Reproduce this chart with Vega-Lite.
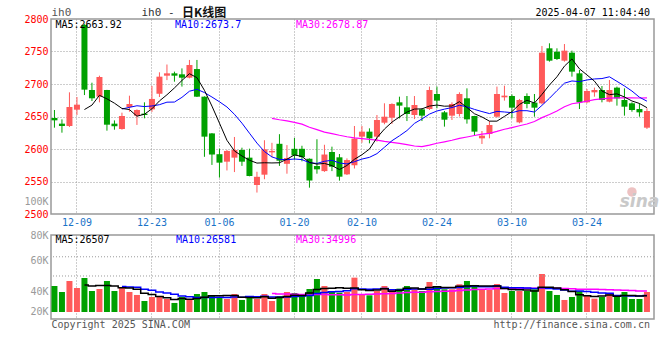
{
  "$schema": "https://vega.github.io/schema/vega-lite/v6.json",
  "background": "white",
  "padding": {"left": 23, "top": 6, "right": 4, "bottom": 4},
  "datasets": {
    "one": [{}],
    "k": [
      {"d":"2024-12-04","o":2647.7,"h":2660,"l":2632.8,"c":2644.1,"v":42600},
      {"d":"2024-12-05","o":2639,"h":2645.6,"l":2625.1,"c":2635.4,"v":32800},
      {"d":"2024-12-06","o":2635.4,"h":2687.2,"l":2633.8,"c":2664.6,"v":50800},
      {"d":"2024-12-09","o":2660.5,"h":2680,"l":2652.3,"c":2668.2,"v":39300},
      {"d":"2024-12-10","o":2791,"h":2792,"l":2683,"c":2691.3,"v":55700},
      {"d":"2024-12-11","o":2690.8,"h":2702,"l":2673.8,"c":2678,"v":34400},
      {"d":"2024-12-12","o":2680.5,"h":2712.8,"l":2671.8,"c":2710.8,"v":37700},
      {"d":"2024-12-13","o":2690.8,"h":2691,"l":2628.2,"c":2637.4,"v":50800},
      {"d":"2024-12-16","o":2639,"h":2644,"l":2629.7,"c":2635,"v":34400},
      {"d":"2024-12-17","o":2630.8,"h":2655.9,"l":2629.7,"c":2650.8,"v":40400},
      {"d":"2024-12-18","o":2664.6,"h":2682,"l":2657.4,"c":2669.2,"v":32800},
      {"d":"2024-12-19","o":2651.3,"h":2661,"l":2637,"c":2660,"v":27900},
      {"d":"2024-12-20","o":2654.4,"h":2671.8,"l":2647.2,"c":2652.3,"v":18000},
      {"d":"2024-12-23","o":2661,"h":2697,"l":2657,"c":2677,"v":24600},
      {"d":"2024-12-24","o":2685,"h":2718,"l":2680,"c":2711.3,"v":24600},
      {"d":"2024-12-25","o":2712.8,"h":2730,"l":2706,"c":2716.4,"v":21300},
      {"d":"2024-12-26","o":2716.4,"h":2719,"l":2703.6,"c":2712.8,"v":14800},
      {"d":"2024-12-27","o":2714.9,"h":2724,"l":2696,"c":2709.7,"v":24600},
      {"d":"2024-12-30","o":2709.7,"h":2737,"l":2708.7,"c":2729.2,"v":19700},
      {"d":"2024-12-31","o":2723,"h":2737,"l":2680,"c":2680.5,"v":29500},
      {"d":"2025-01-02","o":2680.5,"h":2681,"l":2588,"c":2619,"v":32800},
      {"d":"2025-01-03","o":2624,"h":2624.5,"l":2575.5,"c":2591.5,"v":26200},
      {"d":"2025-01-06","o":2592,"h":2600.5,"l":2556,"c":2579,"v":24600},
      {"d":"2025-01-07","o":2580.5,"h":2598.5,"l":2567,"c":2597,"v":21300},
      {"d":"2025-01-08","o":2586.7,"h":2618.5,"l":2564.5,"c":2598.5,"v":29500},
      {"d":"2025-01-09","o":2598.5,"h":2602,"l":2574,"c":2580.5,"v":19700},
      {"d":"2025-01-10","o":2586.7,"h":2600.5,"l":2558,"c":2558.5,"v":24600},
      {"d":"2025-01-13","o":2544.6,"h":2565,"l":2533,"c":2557.2,"v":21300},
      {"d":"2025-01-14","o":2560.5,"h":2613.5,"l":2553.5,"c":2599.5,"v":29500},
      {"d":"2025-01-15","o":2594.8,"h":2609.5,"l":2587.5,"c":2597,"v":18000},
      {"d":"2025-01-16","o":2608,"h":2622.8,"l":2574,"c":2582,"v":26200},
      {"d":"2025-01-17","o":2577.2,"h":2606,"l":2562,"c":2586,"v":32800},
      {"d":"2025-01-20","o":2600.3,"h":2617,"l":2583.5,"c":2590,"v":31100},
      {"d":"2025-01-21","o":2600.3,"h":2605,"l":2581,"c":2587.5,"v":27900},
      {"d":"2025-01-22","o":2585,"h":2585.5,"l":2540.5,"c":2551.5,"v":37700},
      {"d":"2025-01-23","o":2573.8,"h":2615,"l":2562,"c":2568.7,"v":54100},
      {"d":"2025-01-24","o":2566,"h":2606.5,"l":2564.8,"c":2591.5,"v":42600},
      {"d":"2025-01-27","o":2595.4,"h":2603.6,"l":2566,"c":2572.8,"v":32800},
      {"d":"2025-02-05","o":2587.2,"h":2592.3,"l":2551.3,"c":2557.4,"v":31700},
      {"d":"2025-02-06","o":2561,"h":2585.6,"l":2560,"c":2583,"v":32800},
      {"d":"2025-02-07","o":2575,"h":2635.4,"l":2570,"c":2616,"v":56300},
      {"d":"2025-02-10","o":2619,"h":2635.4,"l":2609.7,"c":2626.7,"v":29000},
      {"d":"2025-02-11","o":2626.7,"h":2631.8,"l":2608.7,"c":2616.4,"v":27300},
      {"d":"2025-02-12","o":2619,"h":2652.3,"l":2611.3,"c":2644.6,"v":34400},
      {"d":"2025-02-13","o":2640.5,"h":2670.3,"l":2638,"c":2649.7,"v":42600},
      {"d":"2025-02-14","o":2648.2,"h":2670.3,"l":2638.5,"c":2669.2,"v":36100},
      {"d":"2025-02-17","o":2671.8,"h":2680.5,"l":2647,"c":2666.7,"v":38300},
      {"d":"2025-02-18","o":2664.1,"h":2681.5,"l":2643,"c":2653.8,"v":42600},
      {"d":"2025-02-19","o":2652.3,"h":2681.5,"l":2646,"c":2667.7,"v":37200},
      {"d":"2025-02-20","o":2661,"h":2662.6,"l":2643,"c":2651.3,"v":34400},
      {"d":"2025-02-21","o":2661.5,"h":2696,"l":2660,"c":2690.8,"v":49200},
      {"d":"2025-02-24","o":2684.6,"h":2696,"l":2662.6,"c":2674.4,"v":42600},
      {"d":"2025-02-25","o":2656.4,"h":2658.5,"l":2634.4,"c":2645.1,"v":37200},
      {"d":"2025-02-26","o":2651.3,"h":2671.8,"l":2644.6,"c":2669.2,"v":37200},
      {"d":"2025-02-27","o":2653.8,"h":2687.2,"l":2650,"c":2684.6,"v":45400},
      {"d":"2025-02-28","o":2678,"h":2693.3,"l":2639,"c":2645.6,"v":50800},
      {"d":"2025-03-03","o":2650.8,"h":2651,"l":2620,"c":2626.7,"v":44300},
      {"d":"2025-03-04","o":2616.4,"h":2627.7,"l":2607.7,"c":2620.5,"v":36100},
      {"d":"2025-03-05","o":2623.1,"h":2643,"l":2616.4,"c":2636.9,"v":36100},
      {"d":"2025-03-06","o":2649.7,"h":2696,"l":2648.2,"c":2684.6,"v":45900},
      {"d":"2025-03-07","o":2679.5,"h":2697.4,"l":2674.4,"c":2682.1,"v":31100},
      {"d":"2025-03-10","o":2681.5,"h":2684,"l":2647.2,"c":2663.6,"v":34400},
      {"d":"2025-03-11","o":2641,"h":2677,"l":2639.5,"c":2675.4,"v":34400},
      {"d":"2025-03-12","o":2681.5,"h":2685.6,"l":2662.6,"c":2669.2,"v":34400},
      {"d":"2025-03-13","o":2671.3,"h":2684.6,"l":2649.7,"c":2663.6,"v":37200},
      {"d":"2025-03-14","o":2670.3,"h":2758.5,"l":2668.7,"c":2748.2,"v":62300},
      {"d":"2025-03-17","o":2754.9,"h":2762.6,"l":2734.4,"c":2735.9,"v":34400},
      {"d":"2025-03-18","o":2749.7,"h":2754.9,"l":2737,"c":2738.5,"v":27900},
      {"d":"2025-03-19","o":2735.9,"h":2761.5,"l":2734.4,"c":2751.3,"v":19700},
      {"d":"2025-03-20","o":2748.2,"h":2751.3,"l":2711.3,"c":2719,"v":24600},
      {"d":"2025-03-21","o":2716.4,"h":2721.5,"l":2661.5,"c":2671.8,"v":34400},
      {"d":"2025-03-24","o":2671.8,"h":2692.3,"l":2670.3,"c":2689.2,"v":26200},
      {"d":"2025-03-25","o":2687.2,"h":2694.4,"l":2680.5,"c":2690.8,"v":21900},
      {"d":"2025-03-26","o":2690.8,"h":2696.9,"l":2671.8,"c":2675.4,"v":24600},
      {"d":"2025-03-27","o":2672.8,"h":2706.2,"l":2671.8,"c":2690.8,"v":31100},
      {"d":"2025-03-28","o":2694.4,"h":2696,"l":2666.7,"c":2678,"v":24600},
      {"d":"2025-03-31","o":2675.4,"h":2693.3,"l":2651.3,"c":2665.1,"v":32800},
      {"d":"2025-04-01","o":2670.3,"h":2671.8,"l":2657.4,"c":2660,"v":21300},
      {"d":"2025-04-02","o":2661.5,"h":2670.3,"l":2649.7,"c":2656.4,"v":21300},
      {"d":"2025-04-03","o":2632.8,"h":2662.6,"l":2630.8,"c":2658.5,"v":32800}
    ]
  },
  "spacing": 21,
  "bounds": "flush",
  "vconcat": [
    {
      "width": 603,
      "height": 195,
      "layer": [
        {
          "data": {"name": "k"},
          "mark": {"type": "rule", "strokeWidth": 1},
          "encoding": {
            "x": {
              "field": "d", "type": "ordinal",
              "scale": {"type": "band", "paddingInner": 0.2, "paddingOuter": 0.3, "align": 0.1},
              "axis": {
                "values": ["2024-12-09","2024-12-23","2025-01-06","2025-01-20","2025-02-10","2025-02-24","2025-03-10","2025-03-24"],
                "labelExpr": "substring(datum.value, 5)",
                "labelColor": "#1a73c8", "labelAngle": 0, "labelPadding": 3,
                "ticks": false, "domain": false, "grid": true, "gridColor": "#9a9a9a", "gridDash": [1, 2],
                "bandPosition": 0.5, "title": null
              }
            },
            "y": {
              "field": "l", "type": "quantitative",
              "scale": {"domain": [2500, 2800], "zero": false, "nice": false},
              "axis": {
                "values": [2500, 2520, 2550, 2600, 2650, 2700, 2750, 2800],
                "tickCount": 40,
                "format": "d",
                "labelExpr": "datum.value == 2520 ? '100K' : datum.label",
                "labelColor": {"condition": {"test": "datum.value == 2520", "value": "#9a9a9a"}, "value": "#ff0000"},
                "gridOpacity": {"condition": {"test": "datum.value == 2520 || datum.value == 2500 || datum.value == 2800", "value": 0}, "value": 1},
                "gridColor": "#9a9a9a", "gridDash": [1, 2],
                "ticks": false, "domain": false, "labelPadding": 3, "labelOverlap": false, "title": null
              }
            },
            "y2": {"field": "h"},
            "color": {"condition": {"test": "datum.c >= datum.o", "value": "#ff5a5a"}, "value": "#00a000"}
          }
        },
        {
          "data": {"name": "k"},
          "mark": {"type": "bar"},
          "encoding": {
            "x": {"field": "d", "type": "ordinal"},
            "y": {"field": "o", "type": "quantitative"},
            "y2": {"field": "c"},
            "color": {"condition": {"test": "datum.c >= datum.o", "value": "#ff5a5a"}, "value": "#00a000"}
          }
        },
        {
          "data": {"name": "k"},
          "transform": [
            {"window": [{"op": "mean", "field": "c", "as": "m"}, {"op": "count", "as": "n"}], "frame": [-29, 0], "sort": [{"field": "d"}]},
            {"filter": "datum.n >= 30"}
          ],
          "mark": {"type": "line", "color": "#ff00ff", "strokeWidth": 1.2},
          "encoding": {"x": {"field": "d", "type": "ordinal"}, "y": {"field": "m", "type": "quantitative"}}
        },
        {
          "data": {"name": "k"},
          "transform": [
            {"window": [{"op": "mean", "field": "c", "as": "m"}, {"op": "count", "as": "n"}], "frame": [-9, 0], "sort": [{"field": "d"}]},
            {"filter": "datum.n >= 10"}
          ],
          "mark": {"type": "line", "color": "#0000ff", "strokeWidth": 1},
          "encoding": {"x": {"field": "d", "type": "ordinal"}, "y": {"field": "m", "type": "quantitative"}}
        },
        {
          "data": {"name": "k"},
          "transform": [
            {"window": [{"op": "mean", "field": "c", "as": "m"}, {"op": "count", "as": "n"}], "frame": [-4, 0], "sort": [{"field": "d"}]},
            {"filter": "datum.n >= 5"}
          ],
          "mark": {"type": "line", "color": "#000000", "strokeWidth": 1},
          "encoding": {"x": {"field": "d", "type": "ordinal"}, "y": {"field": "m", "type": "quantitative"}}
        },
        {
          "data": {"name": "one"},
          "mark": {"type": "text", "text": "ih0", "align": "left", "color": "#555555", "fontSize": 11},
          "encoding": {"x": {"datum": "2024-12-04", "type": "ordinal", "bandPosition": 0}, "y": {"datum": 2809}}
        },
        {
          "data": {"name": "one"},
          "mark": {"type": "text", "text": "ih0 -", "align": "left", "color": "#333333", "fontSize": 11},
          "encoding": {"x": {"datum": "2024-12-20", "type": "ordinal", "bandPosition": 0}, "y": {"datum": 2809}}
        },
        {
          "data": {"name": "one"},
          "mark": {"type": "text", "text": "日K线图", "align": "left", "dx": 3, "color": "#111111", "fontSize": 12, "fontWeight": "bold", "font": "Noto Sans CJK SC"},
          "encoding": {"x": {"datum": "2024-12-27", "type": "ordinal", "bandPosition": 0}, "y": {"datum": 2809}}
        },
        {
          "data": {"name": "one"},
          "mark": {"type": "text", "text": "2025-04-07 11:04:40", "align": "right", "color": "#000000"},
          "encoding": {"x": {"datum": "2025-04-03", "type": "ordinal", "bandPosition": 1}, "y": {"datum": 2809}}
        },
        {
          "data": {"name": "one"},
          "mark": {"type": "text", "text": "MA5:2663.92", "align": "left", "dx": 4, "color": "#000000"},
          "encoding": {"x": {"datum": "2024-12-04", "type": "ordinal", "bandPosition": 0}, "y": {"datum": 2790.8}}
        },
        {
          "data": {"name": "one"},
          "mark": {"type": "text", "text": "MA10:2673.7", "align": "left", "dx": 3.5, "color": "#0000ff"},
          "encoding": {"x": {"datum": "2024-12-26", "type": "ordinal", "bandPosition": 0}, "y": {"datum": 2790.8}}
        },
        {
          "data": {"name": "one"},
          "mark": {"type": "text", "text": "MA30:2678.87", "align": "left", "dx": 4.5, "color": "#ff00ff"},
          "encoding": {"x": {"datum": "2025-01-20", "type": "ordinal", "bandPosition": 0}, "y": {"datum": 2790.8}}
        },
        {
          "data": {"name": "one"},
          "mark": {"type": "point", "shape": "circle", "filled": true, "size": 90, "color": "#e9b3b3", "opacity": 0.8},
          "encoding": {"x": {"datum": "2025-04-01", "type": "ordinal"}, "y": {"datum": 2534}}
        },
        {
          "data": {"name": "one"},
          "mark": {"type": "text", "text": "sina", "align": "center", "font": "DejaVu Sans", "fontSize": 17, "fontStyle": "italic", "fontWeight": "bold", "color": "#c9c9c9"},
          "encoding": {"x": {"datum": "2025-04-02", "type": "ordinal"}, "y": {"datum": 2518}}
        }
      ]
    },
    {
      "width": 603,
      "height": 84,
      "layer": [
        {
          "data": {"name": "k"},
          "mark": {"type": "bar"},
          "encoding": {
            "x": {
              "field": "d", "type": "ordinal",
              "scale": {"type": "band", "paddingInner": 0.2, "paddingOuter": 0.3, "align": 0.1},
              "axis": {
                "values": ["2024-12-09","2024-12-23","2025-01-06","2025-01-20","2025-02-10","2025-02-24","2025-03-10","2025-03-24"],
                "labels": false, "ticks": false, "domain": false, "grid": true, "gridColor": "#9a9a9a", "gridDash": [1, 2],
                "bandPosition": 0.5, "title": null
              }
            },
            "y": {
              "field": "v", "type": "quantitative",
              "scale": {"domain": [-11500, 126200], "zero": false, "nice": false},
              "axis": {
                "values": [0, 34400, 84000, 126000],
                "tickCount": 40,
                "labelExpr": "datum.value == 0 ? '20K' : datum.value < 50000 ? '40K' : datum.value < 100000 ? '60K' : '80K'",
                "labelColor": "#9a9a9a", "grid": false, "ticks": false, "domain": false, "labelPadding": 3, "labelOverlap": false, "title": null
              }
            },
            "y2": {"datum": 0},
            "color": {"condition": {"test": "datum.c >= datum.o", "value": "#ff5a5a"}, "value": "#00a000"}
          }
        },
        {
          "data": {"name": "one"},
          "mark": {"type": "rule", "color": "#9a9a9a", "strokeDash": [1, 2], "strokeWidth": 1},
          "encoding": {"y": {"datum": 59000}}
        },
        {
          "data": {"name": "one"},
          "mark": {"type": "rule", "color": "#9a9a9a", "strokeDash": [1, 2], "strokeWidth": 1},
          "encoding": {"y": {"datum": 90500}}
        },
        {
          "data": {"name": "k"},
          "transform": [
            {"window": [{"op": "mean", "field": "v", "as": "m"}, {"op": "count", "as": "n"}], "frame": [-29, 0], "sort": [{"field": "d"}]},
            {"filter": "datum.n >= 30"}
          ],
          "mark": {"type": "line", "color": "#ff00ff", "strokeWidth": 1.5, "interpolate": "step"},
          "encoding": {"x": {"field": "d", "type": "ordinal"}, "y": {"field": "m", "type": "quantitative"}}
        },
        {
          "data": {"name": "k"},
          "transform": [
            {"window": [{"op": "mean", "field": "v", "as": "m"}, {"op": "count", "as": "n"}], "frame": [-9, 0], "sort": [{"field": "d"}]},
            {"filter": "datum.n >= 10"}
          ],
          "mark": {"type": "line", "color": "#0000ff", "strokeWidth": 1.5, "interpolate": "step"},
          "encoding": {"x": {"field": "d", "type": "ordinal"}, "y": {"field": "m", "type": "quantitative"}}
        },
        {
          "data": {"name": "k"},
          "transform": [
            {"window": [{"op": "mean", "field": "v", "as": "m"}, {"op": "count", "as": "n"}], "frame": [-4, 0], "sort": [{"field": "d"}]},
            {"filter": "datum.n >= 5"}
          ],
          "mark": {"type": "line", "color": "#000000", "strokeWidth": 1.5, "interpolate": "step"},
          "encoding": {"x": {"field": "d", "type": "ordinal"}, "y": {"field": "m", "type": "quantitative"}}
        },
        {
          "data": {"name": "one"},
          "mark": {"type": "text", "text": "MA5:26507", "align": "left", "dx": 4, "color": "#000000"},
          "encoding": {"x": {"datum": "2024-12-04", "type": "ordinal", "bandPosition": 0}, "y": {"datum": 118000}}
        },
        {
          "data": {"name": "one"},
          "mark": {"type": "text", "text": "MA10:26581", "align": "left", "dx": 4.5, "color": "#0000ff"},
          "encoding": {"x": {"datum": "2024-12-26", "type": "ordinal", "bandPosition": 0}, "y": {"datum": 118000}}
        },
        {
          "data": {"name": "one"},
          "mark": {"type": "text", "text": "MA30:34996", "align": "left", "dx": 4.5, "color": "#ff00ff"},
          "encoding": {"x": {"datum": "2025-01-20", "type": "ordinal", "bandPosition": 0}, "y": {"datum": 118000}}
        },
        {
          "data": {"name": "one"},
          "mark": {"type": "text", "text": "Copyright 2025 SINA.COM", "align": "left", "color": "#555555"},
          "encoding": {"x": {"datum": "2024-12-04", "type": "ordinal", "bandPosition": 0}, "y": {"datum": -21300}}
        },
        {
          "data": {"name": "one"},
          "mark": {"type": "text", "text": "http://finance.sina.com.cn", "align": "right", "color": "#555555"},
          "encoding": {"x": {"datum": "2025-04-03", "type": "ordinal", "bandPosition": 1}, "y": {"datum": -21300}}
        }
      ]
    }
  ],
  "config": {
    "view": {"stroke": "#999999", "strokeWidth": 1.5},
    "axis": {"labelFont": "DejaVu Sans Mono", "labelFontSize": 10, "labelOverlap": false},
    "text": {"font": "DejaVu Sans Mono", "fontSize": 10}
  }
}
